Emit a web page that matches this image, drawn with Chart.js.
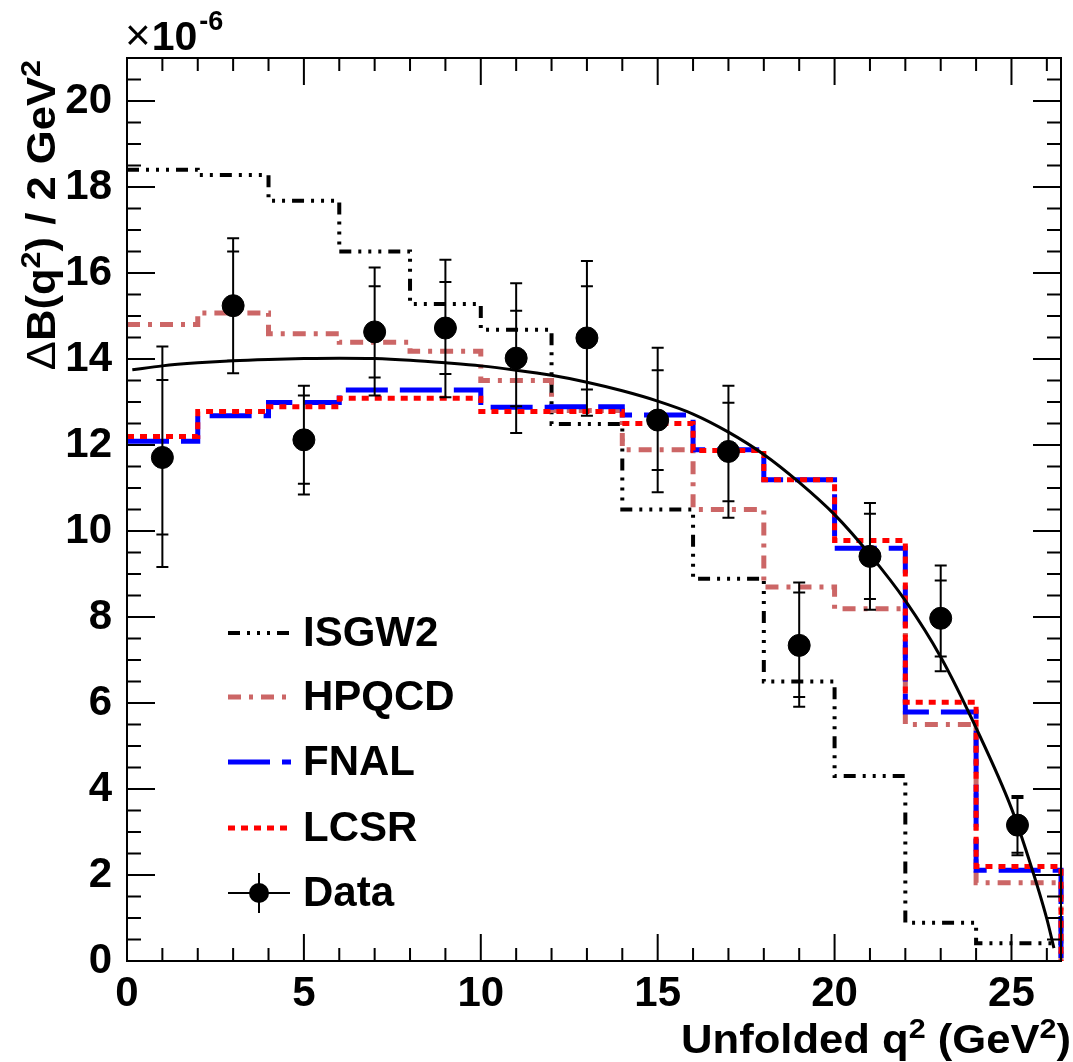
<!DOCTYPE html>
<html>
<head>
<meta charset="utf-8">
<script src="https://cdn.jsdelivr.net/npm/chart.js@4.4.0/dist/chart.umd.min.js"></script>
<style>html,body{margin:0;padding:0;background:#fff}</style>
</head>
<body>
<canvas id="c" width="1073" height="1062"></canvas>
<script>
const binEdges = [0, 2, 4, 6, 8, 10, 12, 14, 16, 18, 20, 22, 24, 26.4];
const isgw2 = [18.40, 18.28, 17.68, 16.50, 15.28, 14.68, 12.49, 10.50, 8.89, 6.50, 4.30, 0.89, 0.41];
const hpqcd = [14.80, 15.07, 14.59, 14.39, 14.18, 13.50, 12.80, 11.89, 10.50, 8.70, 8.19, 5.50, 1.82];
const fnal  = [12.09, 12.68, 12.99, 13.28, 13.28, 12.88, 12.89, 12.70, 11.89, 11.19, 9.60, 5.79, 2.11];
const lcsr  = [12.20, 12.78, 12.89, 13.09, 13.09, 12.78, 12.78, 12.50, 11.87, 11.19, 9.78, 6.02, 2.20];

const dataX  = [1, 3, 5, 7, 9, 11, 13, 15, 17, 19, 21, 23, 25.17];
const dataY  = [11.71, 15.24, 12.12, 14.63, 14.72, 14.02, 14.49, 12.58, 11.85, 7.34, 9.41, 7.97, 3.16];
const statHi = [13.51, 16.50, 13.15, 15.69, 15.79, 15.12, 15.69, 13.74, 12.98, 8.57, 10.40, 8.85, 3.79];
const statLo = [9.92, 13.96, 11.10, 13.57, 13.65, 12.90, 13.29, 11.42, 10.69, 6.14, 8.42, 7.08, 2.52];
const totHi  = [14.29, 16.81, 13.38, 16.13, 16.31, 15.76, 16.28, 14.26, 13.38, 8.80, 10.65, 9.20, 3.84];
const totLo  = [9.16, 13.67, 10.85, 13.15, 13.11, 12.28, 12.68, 10.90, 10.31, 5.91, 8.17, 6.74, 2.46];

const fitX = [0.15, 1, 2, 3, 4, 5, 6, 7, 8, 9, 10, 11, 12, 13, 14, 15, 16, 17, 18, 19, 20, 21, 22, 23, 24, 25, 25.5, 26, 26.2];
const fitY = [13.75, 13.84, 13.91, 13.96, 13.99, 14.01, 14.02, 14.01, 13.97, 13.91, 13.84, 13.74, 13.62, 13.46, 13.26,
              13.02, 12.72, 12.30, 11.78, 11.13, 10.38, 9.45, 8.38, 7.07, 5.42, 3.55, 2.35, 0.98, 0.30];

const FONT = '"Liberation Sans", Arial, sans-serif';

function hist(vals) {
  const pts = vals.map((v, i) => ({ x: binEdges[i], y: v }));
  const last = binEdges[vals.length];
  pts.push({ x: last, y: vals[vals.length - 1] });
  pts.push({ x: last, y: 0 });
  return pts;
}

const histStyle = (color, width, dash, order, label) => ({
  label: label, type: 'line', borderColor: color, borderWidth: width, borderDash: dash,
  stepped: 'before', pointRadius: 0, fill: false, order: order, clip: false,
  borderCapStyle: 'butt'
});

const datasets = [
  Object.assign(histStyle('#000000', 4, [12, 7, 3, 7, 3, 7, 3, 7], 5, 'ISGW2'), { data: hist(isgw2) }),
  Object.assign(histStyle('#cc6666', 5, [13, 8, 4, 8], 4, 'HPQCD'), { data: hist(hpqcd) }),
  Object.assign(histStyle('#0000ff', 5, [42, 12], 3, 'FNAL'), { data: hist(fnal) }),
  Object.assign(histStyle('#ff0000', 5, [7, 6], 2, 'LCSR'), { data: hist(lcsr) }),
  {
    label: 'fit', type: 'line', data: fitX.map((x, i) => ({ x: x, y: fitY[i] })),
    borderColor: '#000', borderWidth: 3, pointRadius: 0,
    cubicInterpolationMode: 'monotone', order: 1, clip: false
  },
  {
    label: 'Data', type: 'scatter', data: dataX.map((x, i) => ({ x: x, y: dataY[i] })),
    backgroundColor: '#000', borderColor: '#000', pointRadius: 11, pointHoverRadius: 11,
    order: 0, clip: false
  }
];

// error bars, drawn just before the data markers
const errorBars = {
  id: 'errorBars',
  beforeDatasetDraw(chart, args) {
    if (chart.data.datasets[args.index].label !== 'Data') return;
    const ctx = chart.ctx, xs = chart.scales.x, ys = chart.scales.y;
    ctx.save();
    ctx.strokeStyle = '#000';
    ctx.lineWidth = 2;
    dataX.forEach((x, i) => {
      const px = xs.getPixelForValue(x);
      ctx.beginPath();
      ctx.moveTo(px, ys.getPixelForValue(totLo[i]));
      ctx.lineTo(px, ys.getPixelForValue(totHi[i]));
      [totLo[i], totHi[i], statLo[i], statHi[i]].forEach(v => {
        const py = ys.getPixelForValue(v);
        ctx.moveTo(px - 6, py);
        ctx.lineTo(px + 6, py);
      });
      ctx.stroke();
    });
    ctx.restore();
  }
};

// frame, inward ticks, titles, legend
const decor = {
  id: 'decor',
  afterDraw(chart) {
    const ctx = chart.ctx, a = chart.chartArea, xs = chart.scales.x, ys = chart.scales.y;
    ctx.save();
    ctx.strokeStyle = '#000';
    ctx.lineWidth = 2;
    ctx.strokeRect(a.left, a.top, a.right - a.left, a.bottom - a.top);
    ctx.beginPath();
    for (let v = 0; v <= 26; v++) {
      const px = xs.getPixelForValue(v);
      const len = v % 5 === 0 ? 27 : 13;
      ctx.moveTo(px, a.bottom); ctx.lineTo(px, a.bottom - len);
      ctx.moveTo(px, a.top); ctx.lineTo(px, a.top + len);
    }
    for (let k = 0; k <= 42; k++) {
      const py = ys.getPixelForValue(k * 0.5);
      const len = k % 4 === 0 ? 28 : 14;
      ctx.moveTo(a.left, py); ctx.lineTo(a.left + len, py);
      ctx.moveTo(a.right, py); ctx.lineTo(a.right - len, py);
    }
    ctx.stroke();

    ctx.fillStyle = '#000';
    ctx.textBaseline = 'alphabetic';
    ctx.textAlign = 'left';
    // x10^-6
    ctx.font = '44px ' + FONT;
    ctx.fillText('\u00d7', 125, 50);
    let w = ctx.measureText('\u00d7').width;
    ctx.font = 'bold 41px ' + FONT;
    ctx.fillText('10', 126 + w, 50);
    w += ctx.measureText('10').width;
    ctx.font = 'bold 27px ' + FONT;
    ctx.fillText('-6', 128 + w, 30);

    // rich text: parts are [text, kind] with kind 0 normal bold, 1 superscript, 2 plain weight
    function rich(parts, big, small, rise) {
      const fontOf = k => (k === 2 ? '' : 'bold ') + (k === 1 ? small : big) + 'px ' + FONT;
      let total = 0;
      parts.forEach(p => { ctx.font = fontOf(p[1]); p.w = ctx.measureText(p[0]).width; total += p.w; });
      return { total: total, draw(x0, y0) {
        let x = x0;
        parts.forEach(p => { ctx.font = fontOf(p[1]); ctx.fillText(p[0], x, p[1] === 1 ? y0 - rise : y0); x += p.w; });
      } };
    }
    // x title
    ctx.save();
    ctx.translate(1071, 1053);
    ctx.scale(1.09, 1);
    const xt = rich([['Unfolded q', 0], ['2', 1], [' (GeV', 0], ['2', 1], [')', 0]], 40, 28, 15);
    xt.draw(-xt.total, 0);
    ctx.restore();
    // y title
    ctx.save();
    ctx.translate(55, 60);
    ctx.rotate(-Math.PI / 2);
    ctx.scale(1.09, 1);
    const yt = rich([['\u0394', 2], ['B(q', 0], ['2', 1], [') / 2 GeV', 0], ['2', 1]], 40, 28, 15);
    yt.draw(-yt.total, 0);
    ctx.restore();

    // legend
    const rows = [633, 697, 762, 828, 893];
    ctx.font = 'bold 42px ' + FONT;
    ctx.textBaseline = 'middle';
    chart.data.datasets.forEach(ds => {
      const idx = ['ISGW2', 'HPQCD', 'FNAL', 'LCSR', 'Data'].indexOf(ds.label);
      if (idx < 0) return;
      const y = rows[idx];
      ctx.save();
      if (ds.label === 'Data') {
        ctx.lineWidth = 2;
        ctx.strokeStyle = '#000';
        ctx.beginPath();
        ctx.moveTo(228, y); ctx.lineTo(290, y);
        ctx.moveTo(259, y - 20); ctx.lineTo(259, y + 20);
        ctx.stroke();
        ctx.beginPath();
        ctx.arc(259, y, 10, 0, Math.PI * 2);
        ctx.fill();
      } else {
        ctx.strokeStyle = ds.borderColor;
        ctx.lineWidth = ds.borderWidth;
        ctx.setLineDash(ds.borderDash);
        ctx.beginPath();
        ctx.moveTo(228, y); ctx.lineTo(291, y);
        ctx.stroke();
      }
      ctx.restore();
      ctx.fillText(ds.label, 303, y + 1);
    });
    ctx.restore();
  }
};

new Chart(document.getElementById('c'), {
  type: 'line',
  data: { datasets: datasets },
  options: {
    responsive: false,
    animation: false,
    events: [],
    layout: { padding: { top: 58, right: 4, left: 0, bottom: 0 } },
    plugins: { legend: { display: false }, tooltip: { enabled: false } },
    scales: {
      x: {
        type: 'linear', min: 0, max: 26.4,
        grid: { display: false }, border: { display: false },
        ticks: { stepSize: 5, includeBounds: false, color: '#000', padding: 0,
                 font: { family: FONT, size: 42, weight: 'bold' } },
        afterFit(s) { s.height = 101; }
      },
      y: {
        type: 'linear', min: 0, max: 21,
        grid: { display: false }, border: { display: false },
        ticks: { stepSize: 2, includeBounds: false, color: '#000', padding: 7,
                 font: { family: FONT, size: 42, weight: 'bold' } },
        afterFit(s) { s.width = 127; }
      }
    }
  },
  plugins: [errorBars, decor]
});
</script>
</body>
</html>
